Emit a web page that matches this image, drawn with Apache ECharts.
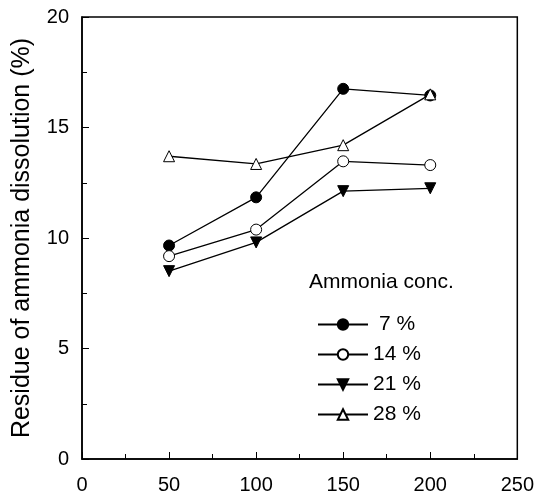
<!DOCTYPE html>
<html>
<head>
<meta charset="utf-8">
<script src="https://cdn.jsdelivr.net/npm/echarts@6/dist/echarts.min.js"></script>
<style>html,body{margin:0;padding:0;background:#fff}#c{width:537px;height:495px}</style>
</head>
<body>
<div id="c"></div>
<script>
const xValues = [50, 100, 150, 200];
const seriesNames = ['7 %', '14 %', '21 %', '28 %'];
const conc7 = [9.66, 11.84, 16.75, 16.45];
const conc14 = [9.18, 10.38, 13.47, 13.3];
const conc21 = [8.5, 9.8, 12.12, 12.25];
const conc28 = [13.7, 13.35, 14.2, 16.5];
const xTicks = [0, 50, 100, 150, 200, 250];
const yTicks = [0, 5, 10, 15, 20];

const font = 'Liberation Sans, Arial, sans-serif';
const pair = (arr) => xValues.map((x, i) => [x, arr[i]]);
const styles = [
  {symbol: 'circle', color: '#000', rot: 0, size: 11},
  {symbol: 'circle', color: '#fff', rot: 0, size: 11},
  {symbol: 'triangle', color: '#000', rot: 180, size: 11},
  {symbol: 'triangle', color: '#fff', rot: 0, size: 11}
];
const datas = [conc7, conc14, conc21, conc28];
const chart = echarts.init(document.getElementById('c'), null, {renderer: 'canvas'});
chart.setOption({
  animation: false,
  backgroundColor: '#fff',
  grid: {left: 82, right: 19, top: 17, bottom: 33, show: true, borderColor: '#000', borderWidth: 1.5, backgroundColor: 'transparent'},
  xAxis: {
    type: 'value', min: xTicks[0], max: xTicks[xTicks.length - 1], interval: 50,
    axisLine: {lineStyle: {color: '#000', width: 1.5}},
    axisTick: {inside: true, length: 7, lineStyle: {color: '#000'}},
    minorTick: {show: true, splitNumber: 2, length: 5, lineStyle: {color: '#000'}},
    splitLine: {show: false},
    axisLabel: {color: '#000', fontSize: 20, fontFamily: font, margin: 16}
  },
  yAxis: {
    type: 'value', min: yTicks[0], max: yTicks[yTicks.length - 1], interval: 5,
    name: 'Residue of ammonia dissolution (%)', nameLocation: 'middle', nameGap: 47,
    nameTextStyle: {color: '#000', fontSize: 25, fontFamily: font},
    axisLine: {lineStyle: {color: '#000', width: 1.5}},
    axisTick: {inside: true, length: 7, lineStyle: {color: '#000'}},
    minorTick: {show: true, splitNumber: 2, length: 5, lineStyle: {color: '#000'}},
    splitLine: {show: false},
    axisLabel: {color: '#000', fontSize: 20, fontFamily: font, margin: 13}
  },
  legend: {
    orient: 'vertical', left: 312, top: 309, itemGap: 9,
    itemWidth: 50, itemHeight: 13,
    data: seriesNames,
    formatter: (name) => '{a|' + name + '}',
    textStyle: {color: '#000', fontSize: 21, fontFamily: font,
      rich: {a: {width: 48, align: 'center', fontSize: 21, fontFamily: font, color: '#000'}}}
  },
  graphic: [{
    type: 'text', left: 309, top: 272,
    style: {text: 'Ammonia conc.', fill: '#000', font: '21px ' + font}
  }],
  series: datas.map((d, i) => ({
    name: seriesNames[i], type: 'line', data: pair(d),
    symbol: styles[i].symbol, symbolSize: styles[i].size, symbolRotate: styles[i].rot,
    lineStyle: {color: '#000', width: 1.3},
    itemStyle: {color: styles[i].color, borderColor: '#000', borderWidth: 1},
    z: 2 + i
  }))
});
</script>
</body>
</html>
